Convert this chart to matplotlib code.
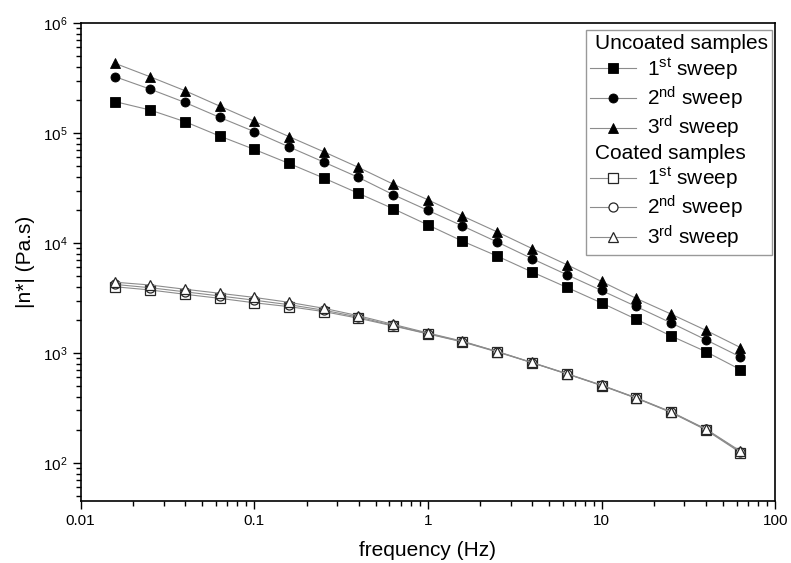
import numpy as np
import matplotlib as mpl
mpl.use('agg')
import matplotlib.pyplot as plt
from matplotlib.lines import Line2D

plt.rcParams['font.family'] = ['Liberation Sans', 'DejaVu Sans']
plt.rcParams['mathtext.fontset'] = 'custom'
plt.rcParams['mathtext.rm'] = 'Liberation Sans'
plt.rcParams['mathtext.it'] = 'Liberation Sans:italic'
plt.rcParams['mathtext.bf'] = 'Liberation Sans:bold'
plt.rcParams['mathtext.default'] = 'regular'

text_sizes = {'axis': 11, 'label': 15, 'legend': 15}

# frequency sweep (Hz)
freq = [0.0158, 0.0251, 0.0398, 0.0631, 0.1, 0.158, 0.251, 0.398, 0.631,
        1.0, 1.58, 2.51, 3.98, 6.31, 10.0, 15.8, 25.1, 39.8, 63.1]

# uncoated samples |n*| (Pa.s)
uncoated_1 = [1.93e5, 1.62e5, 1.27e5, 9.4e4, 7.1e4, 5.3e4, 3.9e4, 2.83e4, 2.05e4,
              1.46e4, 1.04e4, 7.6e3, 5.45e3, 3.95e3, 2.85e3, 2.03e3, 1.43e3, 1.03e3, 705]
uncoated_2 = [3.25e5, 2.51e5, 1.9e5, 1.39e5, 1.03e5, 7.5e4, 5.45e4, 3.95e4, 2.75e4,
              1.98e4, 1.43e4, 1.02e4, 7.2e3, 5.15e3, 3.7e3, 2.65e3, 1.88e3, 1.32e3, 920]
uncoated_3 = [4.3e5, 3.25e5, 2.43e5, 1.76e5, 1.28e5, 9.3e4, 6.76e4, 4.87e4, 3.43e4,
              2.47e4, 1.76e4, 1.26e4, 8.9e3, 6.35e3, 4.47e3, 3.14e3, 2.26e3, 1.61e3, 1.12e3]

# coated samples |n*| (Pa.s)
coated_1 = [4.0e3, 3.74e3, 3.42e3, 3.14e3, 2.86e3, 2.64e3, 2.38e3, 2.07e3, 1.76e3,
            1.49e3, 1.26e3, 1.02e3, 815, 645, 505, 388, 288, 200, 124]
coated_2 = [4.2e3, 3.92e3, 3.6e3, 3.3e3, 3.02e3, 2.75e3, 2.45e3, 2.12e3, 1.78e3,
            1.5e3, 1.27e3, 1.03e3, 815, 645, 508, 390, 290, 202, 126]
coated_3 = [4.4e3, 4.15e3, 3.8e3, 3.49e3, 3.2e3, 2.89e3, 2.55e3, 2.18e3, 1.82e3,
            1.52e3, 1.28e3, 1.03e3, 820, 650, 510, 392, 292, 204, 128]

sweep_labels = ['1$^{st}$ sweep', '2$^{nd}$ sweep', '3$^{rd}$ sweep']
group_labels = ['Uncoated samples', 'Coated samples']

fig = plt.figure(figsize=(7.91, 5.63), dpi=100)
ax = fig.add_axes([0.102, 0.110, 0.878, 0.849])

line_col = '0.55'
ms = 6.5
markers = ['s', 'o', '^']

for y, m in zip([uncoated_1, uncoated_2, uncoated_3], markers):
    ax.plot(freq, y, color=line_col, lw=0.8, marker=m, ms=ms,
            mfc='black', mec='black', mew=0.6)
for y, m in zip([coated_1, coated_2, coated_3], markers):
    ax.plot(freq, y, color=line_col, lw=0.8, marker=m, ms=ms,
            mfc='white', mec='0.15', mew=0.9)

ax.set_xscale('log')
ax.set_yscale('log')
ax.set_xlim(0.01, 100)
ax.set_ylim(45, 1e6)
ax.xaxis.set_major_formatter(mpl.ticker.FuncFormatter(lambda v, p: '%g' % v))

ax.tick_params(which='both', direction='out', top=False, right=False,
               labelsize=text_sizes['axis'], width=1.0)
ax.tick_params(which='major', length=6)
ax.tick_params(which='minor', length=3.5)
for s in ax.spines.values():
    s.set_linewidth(1.2)

ax.set_xlabel('frequency (Hz)', fontsize=text_sizes['label'], labelpad=9)
ax.set_ylabel('|n*| (Pa.s)', fontsize=text_sizes['label'], labelpad=6)

# legend with group headers
blank = Line2D([], [], linestyle='none', marker='none')
handles = [blank]
for m in markers:
    handles.append(Line2D([], [], color=line_col, lw=0.8, marker=m, ms=ms,
                          mfc='black', mec='black', mew=0.6))
handles.append(blank)
for m in markers:
    handles.append(Line2D([], [], color=line_col, lw=0.8, marker=m, ms=ms,
                          mfc='white', mec='0.15', mew=0.9))
labels = [group_labels[0]] + sweep_labels + [group_labels[1]] + sweep_labels

leg = ax.legend(handles, labels, loc='upper right', bbox_to_anchor=(0.995, 0.985),
                borderaxespad=0, fontsize=text_sizes['legend'], fancybox=False,
                edgecolor='0.6', framealpha=1, handlelength=2.2, handletextpad=0.5,
                labelspacing=0.13, borderpad=0.2)
leg.get_frame().set_linewidth(1.0)
# header rows: no handle space so the group title sits at the left edge
rows = leg._legend_handle_box.get_children()[0].get_children()
for i in (0, 4):
    rows[i].sep = 3
    rows[i].get_children()[0].width = 0

fig.savefig('out.png', dpi=100)
